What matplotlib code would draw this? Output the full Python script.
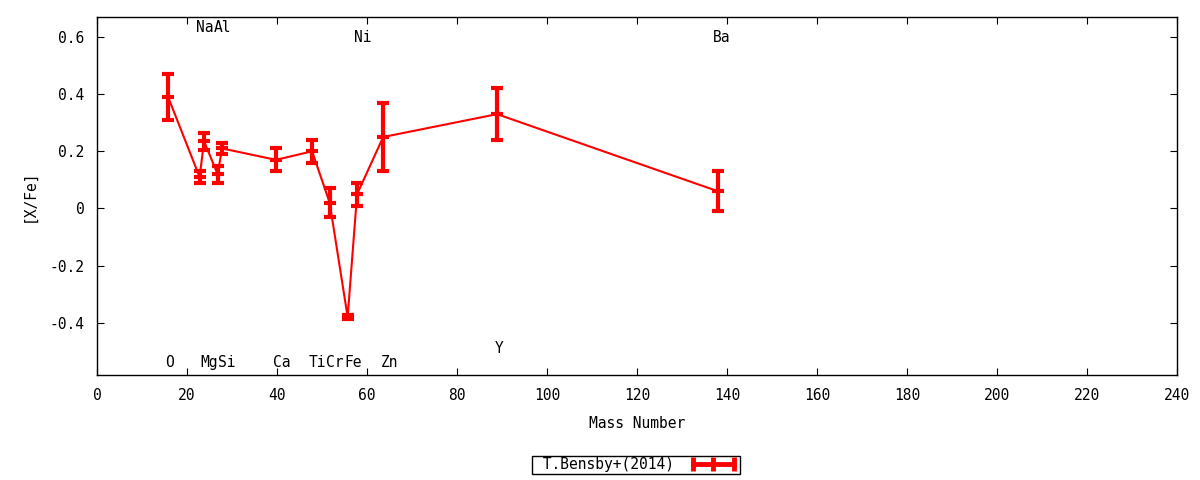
import matplotlib
matplotlib.use("Agg")
import matplotlib.pyplot as plt
from matplotlib.ticker import FixedLocator
from matplotlib.lines import Line2D
from matplotlib.legend_handler import HandlerLine2D

plt.rcParams['font.family'] = ['DejaVu Sans Mono']

# data
elements = ["O", "Na", "Mg", "Al", "Si", "Ca", "Ti", "Cr", "Fe", "Ni", "Zn", "Y", "Ba"]
mass = [15.8, 22.8, 23.8, 26.8, 27.8, 39.8, 47.8, 51.7, 55.7, 57.8, 63.6, 88.9, 138.0]
xfe = [0.39, 0.11, 0.235, 0.12, 0.21, 0.17, 0.20, 0.02, -0.38, 0.05, 0.25, 0.33, 0.06]
err = [0.08, 0.02, 0.03, 0.03, 0.02, 0.04, 0.04, 0.05, 0.007, 0.04, 0.12, 0.09, 0.07]

# element label annotations
label_text = ["O", "Na", "Mg", "Al", "Si", "Ca", "Ti", "Cr", "Fe", "Ni", "Zn", "Y", "Ba"]
label_x = [16.2, 24.0, 24.9, 27.8, 28.9, 41.1, 48.9, 52.9, 56.9, 59.1, 65.1, 89.3, 138.9]
label_y = [-0.54, 0.633, -0.54, 0.633, -0.54, -0.54, -0.54, -0.54, -0.54, 0.598, -0.54, -0.49, 0.598]

xticks = [0, 20, 40, 60, 80, 100, 120, 140, 160, 180, 200, 220, 240]
yticks = [-0.4, -0.2, 0, 0.2, 0.4, 0.6]
ytick_labels = ["-0.4", "-0.2", "0", "0.2", "0.4", "0.6"]

FS = 10.5

fig = plt.figure(figsize=(12, 4.8), dpi=100)
ax = fig.add_axes([97/1200, 1-375/480, (1177-97)/1200, (375-17)/480])

ax.errorbar(mass, xfe, yerr=err, color='red', lw=1.5, elinewidth=3,
            capsize=4, capthick=3, marker='_', markersize=9, mew=3)

for t, x, y in zip(label_text, label_x, label_y):
    ax.text(x, y, t, ha='center', va='center', fontsize=FS)

ax.set_xlim(0, 240)
ax.set_ylim(-0.583, 0.67)
ax.xaxis.set_major_locator(FixedLocator(xticks))
ax.set_xticklabels([str(v) for v in xticks])
ax.yaxis.set_major_locator(FixedLocator(yticks))
ax.set_yticklabels(ytick_labels)
ax.tick_params(direction='in', length=5, top=True, right=True, labelsize=FS, pad=9)
ax.set_xlabel("Mass Number", fontsize=FS, labelpad=10)
ax.set_ylabel("[X/Fe]", fontsize=FS, labelpad=9)
for s in ax.spines.values():
    s.set_linewidth(1)

# legend: horizontal errorbar-like sample
handle = Line2D([], [], color='red', lw=3.5, marker='|', markersize=10, mew=3.5)
leg = fig.legend([handle], [" T.Bensby+(2014)"], loc='center',
                 bbox_to_anchor=(636/1200, 1-465/480), markerfirst=False,
                 handler_map={handle: HandlerLine2D(numpoints=3)},
                 fancybox=False, edgecolor='black', framealpha=1, fontsize=FS,
                 borderpad=0.1, handlelength=3.4, handletextpad=1.0,
                 borderaxespad=0)
leg.get_frame().set_linewidth(1)

fig.savefig("out.png", dpi=100)
